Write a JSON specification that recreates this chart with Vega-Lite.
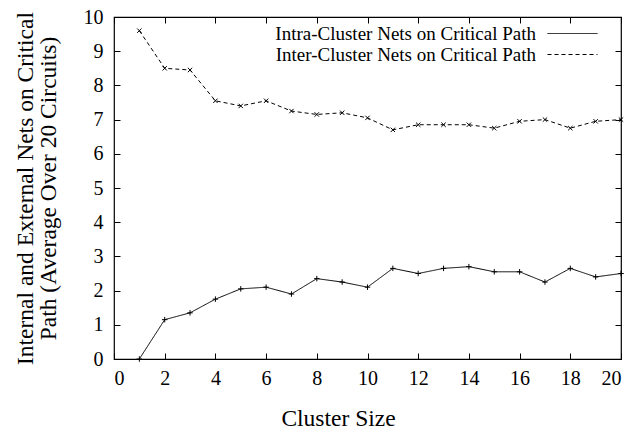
{
  "$schema": "https://vega.github.io/schema/vega-lite/v6.json",
  "width": 507,
  "height": 342,
  "autosize": "none",
  "padding": {"left": 114, "top": 17, "right": 11, "bottom": 71},
  "background": "white",
  "config": {
    "font": "Liberation Serif",
    "view": {"stroke": "black", "strokeWidth": 1.2},
    "axis": {
      "grid": false,
      "domain": false,
      "tickColor": "black",
      "tickSize": -6,
      "labelColor": "black",
      "labelFontSize": 20,
      "labelFont": "Liberation Serif",
      "titleFont": "Liberation Serif",
      "titleFontSize": 23.5,
      "titleFontWeight": "normal",
      "titleColor": "black"
    },
    "legend": {
      "labelFont": "Liberation Serif",
      "labelFontSize": 19,
      "labelColor": "black",
      "labelLimit": 500
    }
  },
  "data": {
    "values": [
      {"size": 1, "series": "Intra-Cluster Nets on Critical Path", "value": 0},
      {"size": 2, "series": "Intra-Cluster Nets on Critical Path", "value": 1.15},
      {"size": 3, "series": "Intra-Cluster Nets on Critical Path", "value": 1.35},
      {"size": 4, "series": "Intra-Cluster Nets on Critical Path", "value": 1.75},
      {"size": 5, "series": "Intra-Cluster Nets on Critical Path", "value": 2.05},
      {"size": 6, "series": "Intra-Cluster Nets on Critical Path", "value": 2.1},
      {"size": 7, "series": "Intra-Cluster Nets on Critical Path", "value": 1.9},
      {"size": 8, "series": "Intra-Cluster Nets on Critical Path", "value": 2.35},
      {"size": 9, "series": "Intra-Cluster Nets on Critical Path", "value": 2.25},
      {"size": 10, "series": "Intra-Cluster Nets on Critical Path", "value": 2.1},
      {"size": 11, "series": "Intra-Cluster Nets on Critical Path", "value": 2.65},
      {"size": 12, "series": "Intra-Cluster Nets on Critical Path", "value": 2.5},
      {"size": 13, "series": "Intra-Cluster Nets on Critical Path", "value": 2.65},
      {"size": 14, "series": "Intra-Cluster Nets on Critical Path", "value": 2.7},
      {"size": 15, "series": "Intra-Cluster Nets on Critical Path", "value": 2.55},
      {"size": 16, "series": "Intra-Cluster Nets on Critical Path", "value": 2.55},
      {"size": 17, "series": "Intra-Cluster Nets on Critical Path", "value": 2.25},
      {"size": 18, "series": "Intra-Cluster Nets on Critical Path", "value": 2.65},
      {"size": 19, "series": "Intra-Cluster Nets on Critical Path", "value": 2.4},
      {"size": 20, "series": "Intra-Cluster Nets on Critical Path", "value": 2.5},
      {"size": 1, "series": "Inter-Cluster Nets on Critical Path", "value": 9.6},
      {"size": 2, "series": "Inter-Cluster Nets on Critical Path", "value": 8.5},
      {"size": 3, "series": "Inter-Cluster Nets on Critical Path", "value": 8.45},
      {"size": 4, "series": "Inter-Cluster Nets on Critical Path", "value": 7.55},
      {"size": 5, "series": "Inter-Cluster Nets on Critical Path", "value": 7.4},
      {"size": 6, "series": "Inter-Cluster Nets on Critical Path", "value": 7.55},
      {"size": 7, "series": "Inter-Cluster Nets on Critical Path", "value": 7.25},
      {"size": 8, "series": "Inter-Cluster Nets on Critical Path", "value": 7.15},
      {"size": 9, "series": "Inter-Cluster Nets on Critical Path", "value": 7.2},
      {"size": 10, "series": "Inter-Cluster Nets on Critical Path", "value": 7.05},
      {"size": 11, "series": "Inter-Cluster Nets on Critical Path", "value": 6.7},
      {"size": 12, "series": "Inter-Cluster Nets on Critical Path", "value": 6.85},
      {"size": 13, "series": "Inter-Cluster Nets on Critical Path", "value": 6.85},
      {"size": 14, "series": "Inter-Cluster Nets on Critical Path", "value": 6.85},
      {"size": 15, "series": "Inter-Cluster Nets on Critical Path", "value": 6.75},
      {"size": 16, "series": "Inter-Cluster Nets on Critical Path", "value": 6.95},
      {"size": 17, "series": "Inter-Cluster Nets on Critical Path", "value": 7.0},
      {"size": 18, "series": "Inter-Cluster Nets on Critical Path", "value": 6.75},
      {"size": 19, "series": "Inter-Cluster Nets on Critical Path", "value": 6.95},
      {"size": 20, "series": "Inter-Cluster Nets on Critical Path", "value": 7.0}
    ]
  },
  "layer": [
    {
      "mark": {"type": "line", "color": "black", "strokeWidth": 1},
      "encoding": {
        "x": {"field": "size", "type": "quantitative", "scale": {"domain": [0, 20], "nice": false},
              "axis": {"title": "Cluster Size", "values": [0,2,4,6,8,10,12,14,16,18,20], "labelPadding": 15, "titlePadding": 18, "titleX": 224}},
        "y": {"field": "value", "type": "quantitative", "scale": {"domain": [0, 10], "nice": false},
              "axis": {"title": ["Internal and External Nets on Critical", "Path (Average Over 20 Circuits)"], "values": [0,1,2,3,4,5,6,7,8,9,10], "labelPadding": 17, "titlePadding": 23, "titleLineHeight": 23}},
        "strokeDash": {
          "field": "series", "type": "nominal",
          "scale": {"domain": ["Intra-Cluster Nets on Critical Path", "Inter-Cluster Nets on Critical Path"], "range": [[1, 0], [4, 3]]},
          "legend": {
            "title": null,
            "orient": "none",
            "legendX": 448,
            "legendY": 6,
            "padding": 0,
            "symbolType": "M-2.5,0L2.5,0",
            "symbolSize": 400,
            "symbolStrokeColor": "black",
            "symbolStrokeWidth": 1,
            "labelAlign": "right",
            "labelOffset": -47,
            "rowPadding": 0
          }
        }
      }
    },
    {
      "transform": [{"filter": "datum.series === 'Intra-Cluster Nets on Critical Path'"}],
      "mark": {"type": "point", "filled": false, "color": "black", "strokeWidth": 1, "size": 30, "opacity": 1, "shape": "M-1,0L1,0M0,-1L0,1"},
      "encoding": {
        "x": {"field": "size", "type": "quantitative", "axis": null},
        "y": {"field": "value", "type": "quantitative", "axis": null}
      }
    },
    {
      "transform": [{"filter": "datum.series === 'Inter-Cluster Nets on Critical Path'"}],
      "mark": {"type": "point", "filled": false, "color": "black", "strokeWidth": 1, "size": 30, "opacity": 1, "shape": "M-0.8,-0.8L0.8,0.8M-0.8,0.8L0.8,-0.8"},
      "encoding": {
        "x": {"field": "size", "type": "quantitative", "axis": null},
        "y": {"field": "value", "type": "quantitative", "axis": null}
      }
    },
    {
      "mark": {"type": "point", "opacity": 0},
      "encoding": {
        "x": {"field": "size", "type": "quantitative", "axis": {"orient": "top", "labels": false, "title": null, "values": [0,2,4,6,8,10,12,14,16,18,20]}},
        "y": {"field": "value", "type": "quantitative", "axis": {"orient": "right", "labels": false, "title": null, "values": [0,1,2,3,4,5,6,7,8,9,10]}}
      }
    }
  ],
  "resolve": {"axis": {"x": "independent", "y": "independent"}}
}
